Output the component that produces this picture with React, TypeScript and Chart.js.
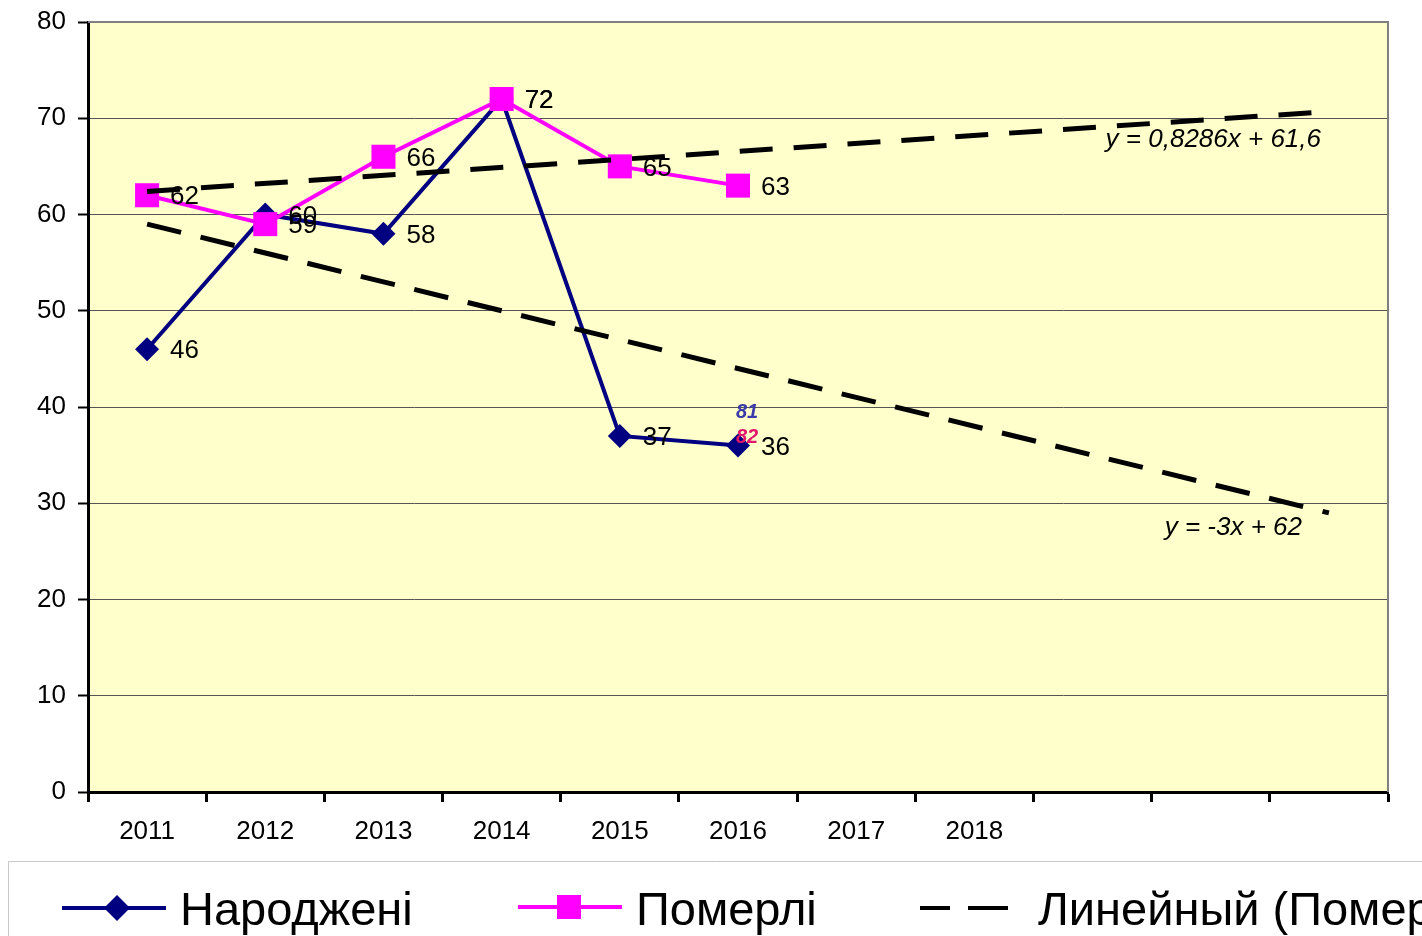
import React, { useEffect, useRef } from "react";
import { Chart, registerables } from "chart.js";

Chart.register(...registerables);

const years = ["2011", "2012", "2013", "2014", "2015", "2016", "2017", "2018", "", "", ""];
const born = [46, 60, 58, 72, 37, 36];
const died = [62, 59, 66, 72, 65, 63];
// trend line end points (first and last category)
const trendDiedEnds = [62.4, 70.7];
const trendBornEnds = [59, 29];
const eqDied = "y = 0,8286x + 61,6";
const eqBorn = "y = -3x + 62";
const stray1 = "81";
const stray2 = "82";

const FONT = "'Liberation Sans', Arial, sans-serif";
const NAVY = "#000080";
const MAGENTA = "#FF00FF";

function endsToSeries(ends: number[], n: number): (number | null)[] {
  const arr: (number | null)[] = new Array(n).fill(null);
  arr[0] = ends[0];
  arr[n - 1] = ends[1];
  return arr;
}

const bgPlugin = {
  id: "bgPlugin",
  beforeDraw(chart: any) {
    const { ctx, chartArea: a } = chart;
    ctx.save();
    ctx.fillStyle = "#ffffff";
    ctx.fillRect(0, 0, chart.width, chart.height);
    ctx.fillStyle = "#FFFFCC";
    ctx.fillRect(a.left, a.top, a.right - a.left, a.bottom - a.top);
    ctx.restore();
  },
  beforeDatasetsDraw(chart: any) {
    const { ctx, chartArea: a } = chart;
    ctx.save();
    ctx.strokeStyle = "#808080";
    ctx.lineWidth = 2;
    ctx.beginPath();
    ctx.moveTo(a.left, a.top);
    ctx.lineTo(a.right, a.top);
    ctx.lineTo(a.right, a.bottom);
    ctx.stroke();
    ctx.restore();
  },
  afterDraw(chart: any) {
    const { ctx } = chart;
    ctx.save();
    // data labels
    ctx.font = `26px ${FONT}`;
    ctx.fillStyle = "#000";
    ctx.textAlign = "left";
    ctx.textBaseline = "middle";
    [2, 3].forEach((di) => {
      const meta = chart.getDatasetMeta(di);
      const data = chart.data.datasets[di].data;
      meta.data.forEach((pt: any, i: number) => {
        if (data[i] == null) return;
        ctx.fillText(String(data[i]), pt.x + 23, pt.y + 2);
      });
    });
    // equations
    ctx.font = `italic 26px ${FONT}`;
    ctx.textAlign = "right";
    ctx.fillText(eqDied, 1321, 140);
    ctx.fillText(eqBorn, 1302, 528);
    // stray labels
    ctx.font = `bold italic 20px ${FONT}`;
    ctx.textAlign = "left";
    ctx.fillStyle = "#3a3aa8";
    ctx.fillText(stray1, 736, 412);
    ctx.fillStyle = "#e0186c";
    ctx.fillText(stray2, 736, 437);

    // legend box
    ctx.fillStyle = "#ffffff";
    ctx.fillRect(8, 862, chart.width, chart.height);
    ctx.strokeStyle = "#c8c8c8";
    ctx.lineWidth = 1;
    ctx.beginPath();
    ctx.moveTo(8.5, chart.height);
    ctx.lineTo(8.5, 861.5);
    ctx.lineTo(chart.width, 861.5);
    ctx.stroke();

    const ly = 908;
    // Народжені
    ctx.strokeStyle = NAVY;
    ctx.lineWidth = 4;
    ctx.beginPath();
    ctx.moveTo(62, ly);
    ctx.lineTo(166, ly);
    ctx.stroke();
    ctx.fillStyle = NAVY;
    ctx.beginPath();
    ctx.moveTo(117, ly - 13);
    ctx.lineTo(130, ly);
    ctx.lineTo(117, ly + 13);
    ctx.lineTo(104, ly);
    ctx.closePath();
    ctx.fill();
    // Померлі
    ctx.strokeStyle = MAGENTA;
    ctx.beginPath();
    ctx.moveTo(518, ly - 1);
    ctx.lineTo(622, ly - 1);
    ctx.stroke();
    ctx.fillStyle = MAGENTA;
    ctx.fillRect(557, ly - 13, 24, 24);
    // trend
    ctx.strokeStyle = "#000";
    ctx.lineWidth = 4;
    ctx.beginPath();
    ctx.moveTo(920, ly);
    ctx.lineTo(950, ly);
    ctx.moveTo(968, ly);
    ctx.lineTo(1008, ly);
    ctx.stroke();

    ctx.fillStyle = "#000";
    ctx.font = `47px ${FONT}`;
    ctx.textBaseline = "alphabetic";
    ctx.textAlign = "left";
    ctx.fillText("Народжені", 180, 925);
    ctx.fillText("Померлі", 636, 925);
    ctx.fillText("Линейный (Померлі)", 1038, 925);
    ctx.restore();
  },
};

export default function App() {
  const ref = useRef<HTMLCanvasElement>(null);
  useEffect(() => {
    const n = years.length;
    const chart = new Chart(ref.current as HTMLCanvasElement, {
      type: "line",
      data: {
        labels: years,
        datasets: [
          {
            label: "Линейный (Померлі)",
            data: endsToSeries(trendDiedEnds, n),
            borderColor: "#000",
            borderWidth: 5,
            borderDash: [33, 21],
            pointRadius: 0,
            spanGaps: true,
            order: 0,
          },
          {
            label: "Линейный (Народжені)",
            data: endsToSeries(trendBornEnds, n),
            borderColor: "#000",
            borderWidth: 5,
            borderDash: [35, 20],
            pointRadius: 0,
            spanGaps: true,
            order: 0,
          },
          {
            label: "Народжені",
            data: born,
            borderColor: NAVY,
            backgroundColor: NAVY,
            borderWidth: 4,
            pointStyle: "rectRot",
            pointRadius: 12,
            pointBorderWidth: 0,
            order: 2,
          },
          {
            label: "Померлі",
            data: died,
            borderColor: MAGENTA,
            backgroundColor: MAGENTA,
            borderWidth: 4,
            pointStyle: "rect",
            pointRadius: 17,
            pointBorderWidth: 0,
            order: 1,
          },
        ],
      },
      options: {
        animation: false,
        responsive: false,
        events: [],
        layout: { padding: { top: 22, right: 34, left: 0, bottom: 0 } },
        plugins: { legend: { display: false }, tooltip: { enabled: false } },
        scales: {
          x: {
            type: "category",
            offset: true,
            afterFit: (s: any) => {
              s.height = 144;
            },
            border: { color: "#000", width: 3 },
            grid: {
              offset: true,
              drawOnChartArea: false,
              drawTicks: true,
              tickLength: 10,
              tickColor: "#000",
              tickWidth: 3,
            },
            ticks: {
              color: "#000",
              font: { family: FONT, size: 26 },
              padding: 14,
              maxRotation: 0,
              autoSkip: false,
            },
          },
          y: {
            min: 0,
            max: 80,
            afterFit: (s: any) => {
              s.width = 88;
            },
            border: { color: "#000", width: 3 },
            grid: {
              color: "#555",
              lineWidth: 1,
              drawTicks: true,
              tickLength: 10,
              tickColor: "#000",
              tickWidth: 2,
            },
            ticks: {
              stepSize: 10,
              color: "#000",
              font: { family: FONT, size: 26, lineHeight: 0.5 },
              padding: 12,
            },
          },
        },
      },
      plugins: [bgPlugin],
    });
    return () => chart.destroy();
  }, []);
  return (
    <div style={{ position: "absolute", left: 0, top: 0, width: 1422, height: 936, overflow: "hidden" }}>
      <canvas ref={ref} width={1422} height={936} style={{ display: "block" }} />
    </div>
  );
}
